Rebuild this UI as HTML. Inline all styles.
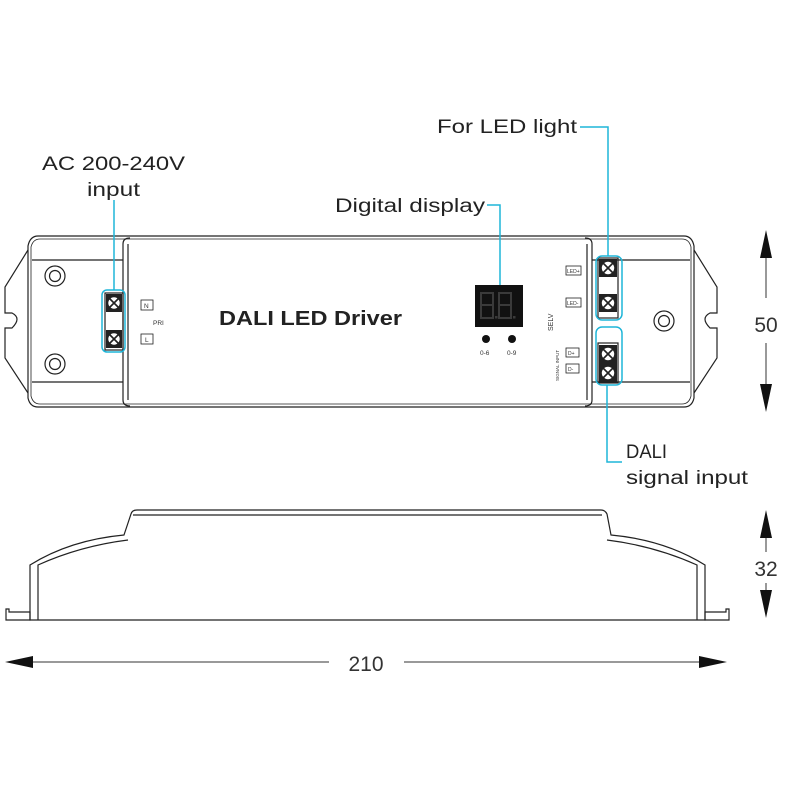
<!DOCTYPE html>
<html><head><meta charset="utf-8"><style>
html,body{margin:0;padding:0;background:#fff;}
svg{display:block;font-family:"Liberation Sans",Arial,sans-serif;}
</style></head><body>
<svg width="800" height="800" viewBox="0 0 800 800" xmlns="http://www.w3.org/2000/svg">
<rect width="800" height="800" fill="#fff"/>
<g fill="none" stroke="#222" stroke-width="1.2">
<path d="M38 236 H684 Q692 236 694 246 V398 Q692 407 684 407 H38 Q30 407 28 398 V246 Q30 236 38 236 Z"/>
<path d="M40 239 H682 Q689 239 691 247 V396 Q689 404 682 404 H40 Q33 404 31 396 V247 Q33 239 40 239 Z" stroke-width="0.8"/>
<path d="M28 250 L5 287 V313 H12 Q22 318 12 328 H5 V358 L28 393"/>
<path d="M694 250 L717 287 V313 H710 Q700 318 710 328 H717 V358 L694 393"/>
<line x1="32" y1="260" x2="123" y2="260"/>
<line x1="32" y1="382" x2="123" y2="382"/>
<line x1="592" y1="260" x2="690" y2="260"/>
<line x1="592" y1="382" x2="690" y2="382"/>
<path d="M123 244 Q123 238 130 238 M123 244 V400 Q123 406 130 406"/>
<path d="M128 244 V400"/>
<path d="M592 244 Q592 238 585 238 M592 244 V400 Q592 406 585 406"/>
<path d="M587 244 V400"/>
<circle cx="55" cy="276" r="10"/><circle cx="55" cy="276" r="5.5"/>
<circle cx="55" cy="364" r="10"/><circle cx="55" cy="364" r="5.5"/>
<circle cx="664" cy="321" r="10"/><circle cx="664" cy="321" r="5.5"/>
<rect x="105" y="293" width="18" height="57"/>
<rect x="598" y="258" width="20" height="60"/>
<rect x="598" y="343" width="20" height="40"/>
<rect x="141" y="300" width="12" height="10" stroke-width="0.8"/>
<rect x="141" y="334" width="12" height="10" stroke-width="0.8"/>
<rect x="566" y="266" width="15" height="9" stroke-width="0.8"/>
<rect x="566" y="298" width="15" height="9" stroke-width="0.8"/>
<rect x="566" y="348" width="13" height="9" stroke-width="0.8"/>
<rect x="566" y="364" width="13" height="9" stroke-width="0.8"/>
</g>
<!-- screws -->
<g fill="#222">
<rect x="106" y="294" width="16" height="18"/>
<rect x="106" y="330" width="16" height="18"/>
<rect x="599" y="259" width="18" height="18"/>
<rect x="599" y="294" width="18" height="18"/>
<rect x="599" y="345" width="18" height="37"/>
</g>
<g stroke="#222" stroke-width="1.6" fill="#fff">
<circle cx="114" cy="303" r="6.5"/><path d="M109 298 L119 308 M119 298 L109 308"/>
<circle cx="114" cy="339" r="6.5"/><path d="M109 334 L119 344 M119 334 L109 344"/>
<circle cx="608" cy="268" r="7"/><path d="M603 263 L613 273 M613 263 L603 273"/>
<circle cx="608" cy="303" r="7"/><path d="M603 298 L613 308 M613 298 L603 308"/>
<circle cx="608" cy="354" r="7"/><path d="M603 349 L613 359 M613 349 L603 359"/>
<circle cx="608" cy="373" r="7"/><path d="M603 368 L613 378 M613 368 L603 378"/>
</g>
<g fill="none" stroke="#1fb5d8" stroke-width="1.5">
<rect x="102" y="290" width="23" height="62" rx="5"/>
<rect x="596" y="256" width="26" height="64" rx="6"/>
<rect x="596" y="327" width="26" height="58" rx="6"/>
<path d="M114 200 V290"/>
<path d="M487 205 H500 V285"/>
<path d="M580 127 H608 V256"/>
<path d="M607 385 V462 H622"/>
</g>
<!-- display -->
<rect x="475" y="285" width="48" height="42" fill="#111"/>
<g fill="none" stroke="#3a3a3a" stroke-width="2">
<path d="M481 293 H493 V305 H481 Z M481 305 V318 H493 V305"/>
<path d="M499 293 H511 V305 H499 Z M499 305 V318 H511 V305"/>
</g>
<rect x="495" y="316" width="2.5" height="2.5" fill="#3a3a3a"/>
<rect x="513" y="316" width="2.5" height="2.5" fill="#3a3a3a"/>
<circle cx="486" cy="339" r="4" fill="#111"/><circle cx="512" cy="339" r="4" fill="#111"/>
<g fill="#333" font-size="6.5">
<text x="480" y="355">0-6</text><text x="507" y="355">0-9</text>
<text x="144" y="308">N</text><text x="145" y="342">L</text>
<text x="153" y="325">PRI</text>
<text x="567" y="273" font-size="5">LED+</text><text x="567" y="305" font-size="5">LED-</text>
<text x="568" y="355" font-size="5">D+</text><text x="568" y="371" font-size="5">D-</text>
<text transform="translate(553,331) rotate(-90)" font-size="7">SELV</text>
<text transform="translate(559,381) rotate(-90)" font-size="4.5">SIGNAL INPUT</text>
</g>
<text x="219" y="325" font-size="20" font-weight="bold" fill="#222" textLength="183" lengthAdjust="spacingAndGlyphs">DALI LED Driver</text>
<g fill="#222" font-size="19">
<text x="42" y="170" textLength="143" lengthAdjust="spacingAndGlyphs">AC 200-240V</text>
<text x="87" y="196" textLength="53" lengthAdjust="spacingAndGlyphs">input</text>
<text x="335" y="212" textLength="150" lengthAdjust="spacingAndGlyphs">Digital display</text>
<text x="437" y="133" textLength="140" lengthAdjust="spacingAndGlyphs">For LED light</text>
<text x="626" y="458" textLength="41" lengthAdjust="spacingAndGlyphs">DALI</text>
<text x="626" y="484" textLength="122" lengthAdjust="spacingAndGlyphs">signal input</text>
</g>
<g fill="none" stroke="#222" stroke-width="1.2">
<path d="M6 620 V609 H9 V612 H30 V620 Z"/>
<path d="M729 620 V609 H726 V612 H705 V620 Z"/>
<path d="M30 620 V565 Q70 540 124 535 L131 514 Q132 510 137 510 H601 Q605 510 607 514 L611 535 Q665 540 705 565 V620 Z"/>
<path d="M38 620 V565 Q80 546 128 540 M133 515 H602 M607 540 Q655 546 697 565 V620"/>
</g>
<g fill="#111" stroke="#333" stroke-width="1">
<line x1="766" y1="256" x2="766" y2="298"/>
<line x1="766" y1="343" x2="766" y2="385"/>
<path d="M766 230 L760 258 H772 Z" stroke="none"/>
<path d="M766 412 L760 384 H772 Z" stroke="none"/>
<line x1="766" y1="536" x2="766" y2="552"/>
<line x1="766" y1="583" x2="766" y2="592"/>
<path d="M766 510 L760 538 H772 Z" stroke="none"/>
<path d="M766 618 L760 590 H772 Z" stroke="none"/>
<line x1="30" y1="662" x2="329" y2="662"/>
<line x1="404" y1="662" x2="700" y2="662"/>
<path d="M5 662 L33 656 V668 Z" stroke="none"/>
<path d="M727 662 L699 656 V668 Z" stroke="none"/>
</g>
<g fill="#333" font-size="21" text-anchor="middle">
<text x="766" y="332">50</text>
<text x="766" y="576">32</text>
<text x="366" y="671">210</text>
</g>
</svg>
</body></html>
